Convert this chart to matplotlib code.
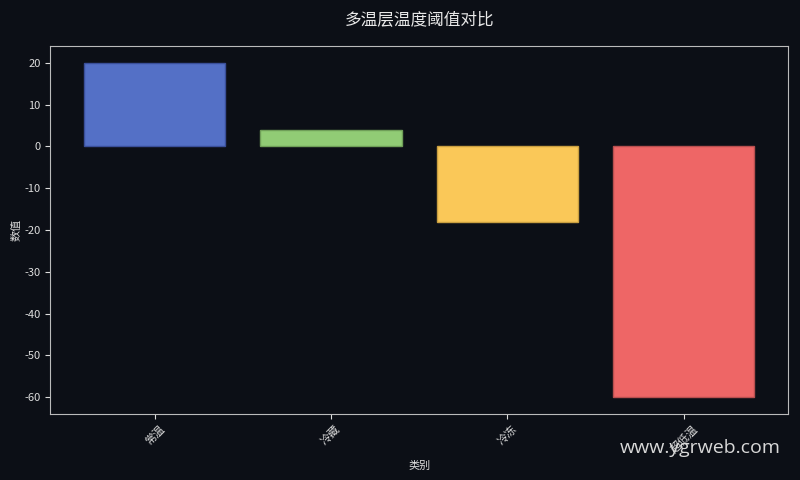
import matplotlib
matplotlib.use("Agg")
import matplotlib.pyplot as plt

categories = ["常温", "冷藏", "冷冻", "超低温"]
values = [20, 4, -18, -60]
colors = ["#5470c6", "#91cc75", "#fac858", "#ee6666"]
edge_colors = ["#3a4f99", "#6f9f58", "#c99f40", "#b84f4f"]

plt.rcParams["font.family"] = ["Noto Sans CJK SC", "DejaVu Sans"]
plt.rcParams["axes.unicode_minus"] = False

bg = "#0c0f16"
fig, ax = plt.subplots(figsize=(8, 4.8), dpi=100)
fig.patch.set_facecolor(bg)
ax.set_facecolor(bg)

ax.bar(categories, values, color=colors, edgecolor=edge_colors, linewidth=1)

ax.set_title("多温层温度阈值对比", color="#e8e8e8", fontsize=12, pad=15)
ax.set_xlabel("类别", color="#dddddd", fontsize=8)
ax.set_ylabel("数值", color="#dddddd", fontsize=8, labelpad=2)
ax.tick_params(colors="#dddddd", labelsize=8)
plt.setp(ax.get_xticklabels(), rotation=45)
for s in ax.spines.values():
    s.set_color("#bbbbbb")

fig.subplots_adjust(left=0.063, right=0.985, top=0.904, bottom=0.1375)
fig.text(0.976, 0.067, "www.ygrweb.com", color="#d8d8d8", fontsize=14,
         ha="right", va="center", family=["Open Sans", "DejaVu Sans"])

fig.savefig("out.png", dpi=100, facecolor=bg)
